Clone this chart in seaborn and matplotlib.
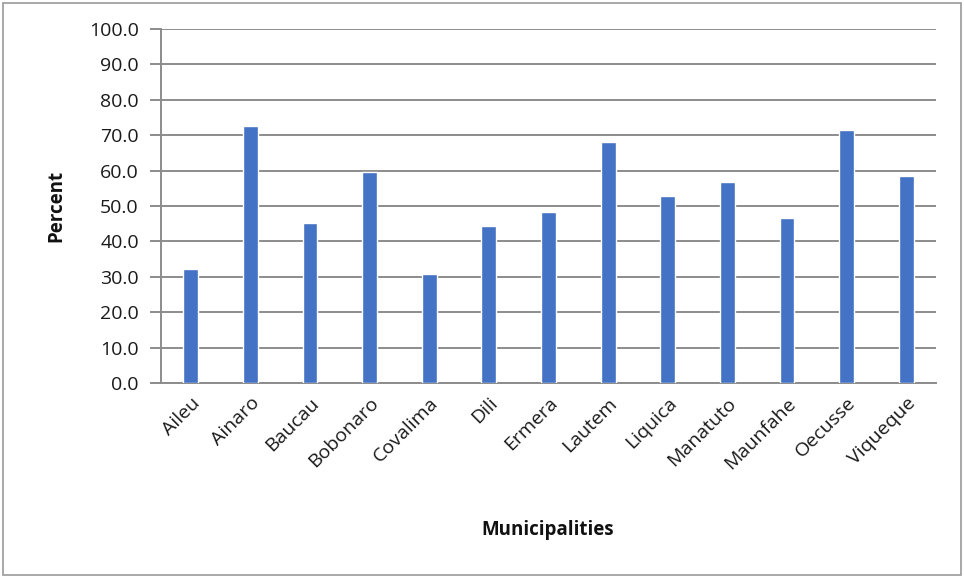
import matplotlib
matplotlib.use("Agg")
import matplotlib.pyplot as plt
from matplotlib.patches import Rectangle
import seaborn as sns
import pandas as pd

municipalities = ["Aileu", "Ainaro", "Baucau", "Bobonaro", "Covalima", "Dili", "Ermera",
                  "Lautem", "Liquica", "Manatuto", "Maunfahe", "Oecusse", "Viqueque"]
percent = [32.3, 72.7, 45.3, 59.7, 30.7, 44.3, 48.2, 68.0, 52.7, 56.8, 46.5, 71.4, 58.4]
y_ticks = [0, 10, 20, 30, 40, 50, 60, 70, 80, 90, 100]

sns.set_theme(style="white")
plt.rcParams["font.family"] = ["Open Sans", "DejaVu Sans"]

df = pd.DataFrame({"Municipality": municipalities, "Percent": percent})

fig = plt.figure(figsize=(9.64, 5.78), dpi=100)
ax = fig.add_axes([161 / 964, 1 - 383 / 578, (936 - 161) / 964, (383 - 29) / 578])

sns.barplot(data=df, x="Municipality", y="Percent", color="#4472C4", width=0.25,
            saturation=1, ax=ax, zorder=3)

ax.set_ylim(0, 100)
ax.set_xlim(-0.5, len(municipalities) - 0.5)
ax.set_yticks(y_ticks)
ax.set_yticklabels([f"{t:.1f}" for t in y_ticks], fontsize=14, color="#1a1a1a")
ax.set_xticks(range(len(municipalities)))
ax.set_xticklabels(municipalities, rotation=45, ha="right", rotation_mode="anchor",
                   fontsize=14, color="#1a1a1a")

ax.yaxis.grid(True, color="#8c8c8c", linewidth=1.4, zorder=0)
ax.set_axisbelow(True)
for side in ["top", "right"]:
    ax.spines[side].set_visible(False)
for side in ["left", "bottom"]:
    ax.spines[side].set_color("#8c8c8c")
    ax.spines[side].set_linewidth(1.4)

ax.tick_params(axis="y", which="major", direction="out", length=8, width=1.4,
               color="#8c8c8c", pad=8, left=True)
ax.tick_params(axis="x", length=0, pad=8)

ax.set_ylabel("Percent", fontsize=13.5, fontweight="bold", labelpad=16, color="#111111")
ax.set_xlabel("")
fig.text(548 / 964, 1 - 530 / 578, "Municipalities", ha="center", va="center",
         fontsize=13.5, fontweight="bold", color="#111111")

fig.patches.append(Rectangle((3 / 964, 3 / 578), 958 / 964, 572 / 578,
                             transform=fig.transFigure, fill=False,
                             edgecolor="#9a9a9a", linewidth=1.2))

fig.savefig("out.png", dpi=100)
